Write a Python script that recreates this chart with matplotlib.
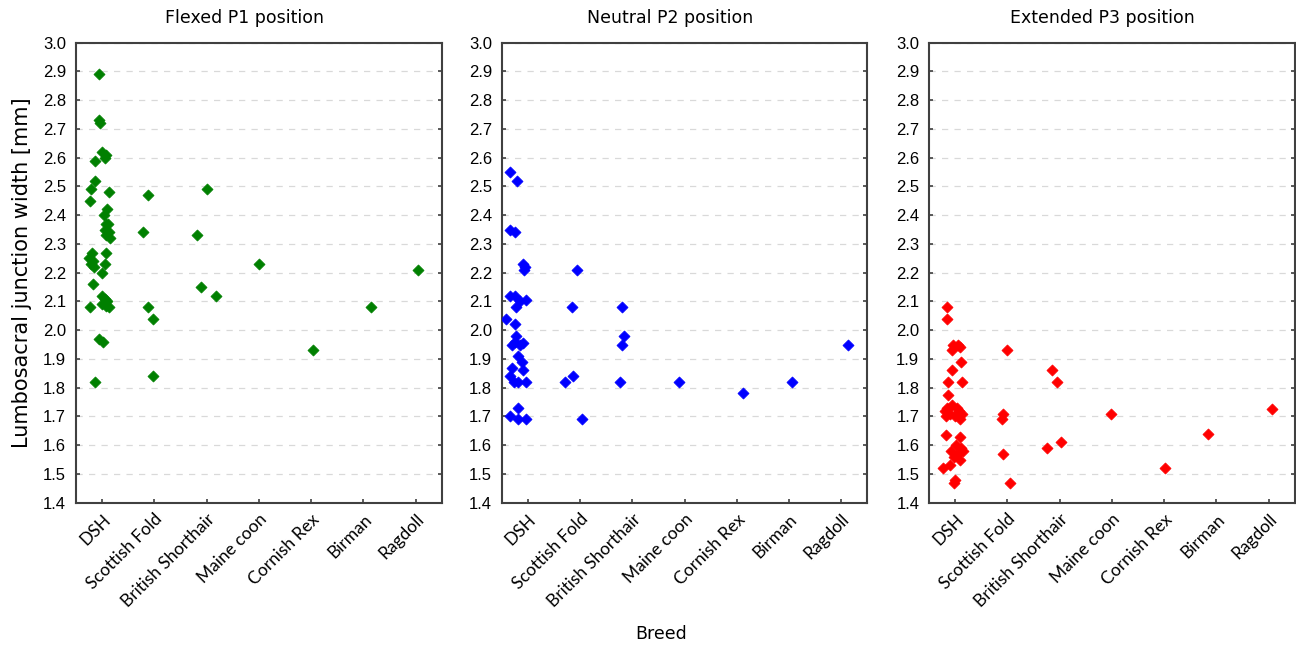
import numpy as np
import matplotlib
matplotlib.use("Agg")
import matplotlib.pyplot as plt

breeds = ["DSH", "Scottish Fold", "British Shorthair", "Maine coon",
          "Cornish Rex", "Birman", "Ragdoll"]
titles = ["Flexed P1 position", "Neutral P2 position", "Extended P3 position"]
colors = ["#008000", "#0000ff", "#ff0000"]

# P1 flexed: breed index, width [mm], horizontal jitter (category units)
p1_breed = [0]*38 + [1]*5 + [2]*4 + [3, 4, 5, 6]
p1_val = [2.89, 2.73, 2.72, 2.62, 2.61, 2.60, 2.59, 2.52, 2.49, 2.45,
          2.48, 2.42, 2.40, 2.37, 2.37, 2.35, 2.34, 2.33, 2.32, 2.27,
          2.25, 2.24, 2.23, 2.22, 2.27, 2.23, 2.20, 2.16, 2.08, 2.12,
          2.11, 2.10, 2.09, 2.085, 2.08, 1.97, 1.96, 1.82,
          2.47, 2.34, 2.08, 2.04, 1.84,
          2.49, 2.33, 2.15, 2.12,
          2.23, 1.93, 2.08, 2.21]
p1_jit = [-0.05, -0.06, -0.04, 0.0, 0.08, 0.05, -0.13, -0.13, -0.22, -0.23,
          0.14, 0.09, 0.03, 0.12, 0.08, 0.05, 0.14, 0.08, 0.15, -0.20,
          -0.25, -0.18, -0.22, -0.16, 0.08, 0.06, 0.0, -0.17, -0.23, 0.0,
          0.05, 0.10, 0.0, 0.08, 0.13, -0.06, 0.02, -0.13,
          -0.13, -0.21, -0.13, -0.03, -0.03,
          0.01, -0.18, -0.11, 0.18,
          0.0, 0.04, 0.15, 0.05]

# P2 neutral
p2_breed = [0]*31 + [1]*5 + [2]*4 + [3, 4, 5, 6]
p2_val = [2.55, 2.52, 2.35, 2.34, 2.23, 2.22, 2.21, 2.12, 2.12, 2.105,
          2.10, 2.08, 2.04, 2.02, 1.98, 1.96, 1.955, 1.95, 1.91, 1.89,
          1.87, 1.86, 1.84, 1.82, 1.82, 1.82, 1.73, 1.70, 1.69, 1.69,
          1.95,
          2.21, 2.08, 1.82, 1.84, 1.69,
          2.08, 1.98, 1.95, 1.82,
          1.82, 1.78, 1.82, 1.95]
p2_jit = [-0.34, -0.20, -0.34, -0.25, -0.10, -0.05, -0.08, -0.34, -0.25, -0.03,
          -0.15, -0.22, -0.41, -0.25, -0.22, -0.25, -0.09, -0.15, -0.19, -0.12,
          -0.31, -0.09, -0.34, -0.19, -0.03, -0.27, -0.18, -0.34, -0.03, -0.19,
          -0.30,
          -0.06, -0.16, -0.29, -0.14, 0.03,
          -0.19, -0.15, -0.20, -0.23,
          -0.10, 0.11, 0.05, 0.13]

# P3 extended
p3_breed = [0]*34 + [1]*5 + [2]*4 + [3, 4, 5, 6]
p3_val = [2.08, 2.04, 1.95, 1.95, 1.94, 1.93, 1.89, 1.86, 1.82, 1.82,
          1.775, 1.74, 1.73, 1.73, 1.72, 1.72, 1.71, 1.71, 1.70, 1.70,
          1.69, 1.635, 1.63, 1.60, 1.59, 1.58, 1.58, 1.57, 1.56, 1.55,
          1.52, 1.53, 1.48, 1.47,
          1.93, 1.71, 1.69, 1.57, 1.47,
          1.86, 1.82, 1.61, 1.59,
          1.71, 1.52, 1.64, 1.725]
p3_jit = [-0.15, -0.15, 0.06, -0.04, 0.10, -0.06, 0.11, -0.06, -0.13, 0.13,
          -0.13, -0.06, -0.15, 0.03, -0.20, 0.08, -0.10, 0.13, -0.17, 0.0,
          0.10, -0.17, 0.09, 0.02, 0.12, -0.08, 0.15, 0.05, -0.02, 0.10,
          -0.23, -0.10, 0.0, -0.03,
          -0.01, -0.09, -0.10, -0.09, 0.06,
          -0.15, -0.05, 0.02, -0.24,
          -0.02, 0.02, -0.15, 0.07]

panels = [(p1_breed, p1_val, p1_jit), (p2_breed, p2_val, p2_jit),
          (p3_breed, p3_val, p3_jit)]

plt.rcParams['font.family'] = ['Liberation Sans', 'DejaVu Sans']

fig = plt.figure(figsize=(12.96, 6.46), dpi=100)
lefts = [0.0586, 0.3871, 0.7168]
title_x = [0.46, 0.46, 0.475]
for i, (b, v, j) in enumerate(panels):
    ax = fig.add_axes([lefts[i], 0.2218, 0.2822, 0.7121])
    x = np.array(b) + np.array(j)
    ax.scatter(x, v, marker='D', s=32, color=colors[i], edgecolors=colors[i],
               linewidths=0.5, zorder=3)
    ax.set_xlim(-0.5, 6.5)
    ax.set_ylim(1.4, 3.0)
    ax.set_yticks(np.arange(1.4, 3.01, 0.1))
    ax.set_yticklabels([f"{t:.1f}" for t in np.arange(1.4, 3.01, 0.1)])
    ax.set_xticks(range(len(breeds)))
    ax.set_xticklabels(breeds, rotation=45, ha='right', va='top',
                       rotation_mode='anchor', family='Lato', fontsize=12.5)
    ax.tick_params(axis='both', direction='in', length=3, width=1.2,
                   color='#404040')
    ax.tick_params(axis='y', labelsize=12, pad=7, right=True)
    ax.tick_params(axis='x', pad=6)
    ax.grid(axis='y', linestyle=(0, (5, 5)), color='#d9d9d9', linewidth=0.9)
    ax.set_axisbelow(True)
    for s in ax.spines.values():
        s.set_color('#404040')
        s.set_linewidth(1.5)
    ax.set_title(titles[i], fontsize=12.5, pad=14, family='DejaVu Sans',
                 x=title_x[i])
    if i == 0:
        ax.set_ylabel("Lumbosacral junction width [mm]", fontsize=15,
                      labelpad=8, family='DejaVu Sans')

fig.text(0.51, 0.004, "Breed", ha='center', va='bottom', fontsize=12.5,
         family='DejaVu Sans')
fig.savefig("out.png", dpi=100)
